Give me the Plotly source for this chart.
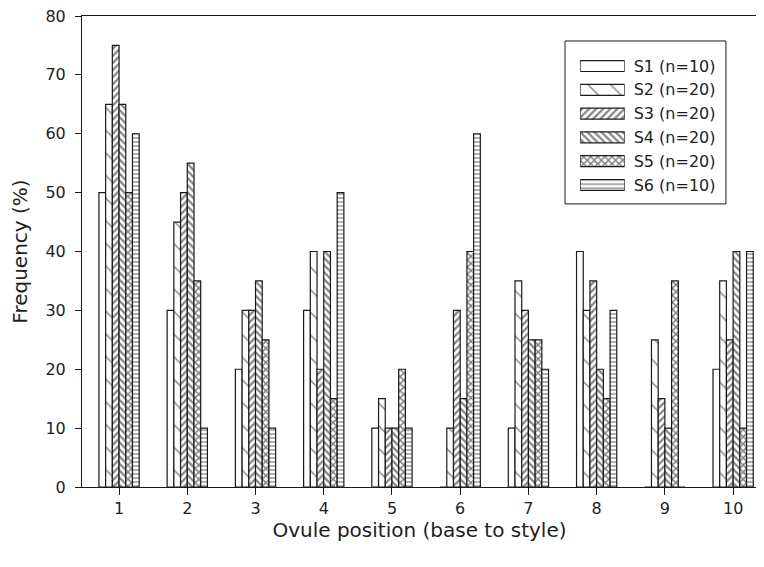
import plotly.graph_objects as go

positions = [1, 2, 3, 4, 5, 6, 7, 8, 9, 10]
series_names = ["S1 (n=10)", "S2 (n=20)", "S3 (n=20)", "S4 (n=20)", "S5 (n=20)", "S6 (n=10)"]
s1 = [50, 30, 20, 30, 10, 0, 10, 40, 0, 20]
s2 = [65, 45, 30, 40, 15, 10, 35, 30, 25, 35]
s3 = [75, 50, 30, 20, 10, 30, 30, 35, 15, 25]
s4 = [65, 55, 35, 40, 10, 15, 25, 20, 10, 40]
s5 = [50, 35, 25, 15, 20, 40, 25, 15, 35, 10]
s6 = [60, 10, 10, 50, 10, 60, 20, 30, 0, 40]
series_values = [s1, s2, s3, s4, s5, s6]
y_ticks = [0, 10, 20, 30, 40, 50, 60, 70, 80]

# pattern styles per series
shapes = ["", "\\", "/", "\\", "x", "-"]
psizes = [8, 16, 5, 5, 5, 4]
psolid = [0.3, 0.09, 0.45, 0.45, 0.5, 0.32]

FONT = "DejaVu Sans"
TXT = "#1e1e1e"
LINE = "#1a1a1a"
PAT = "#0a0a0a"

fig = go.Figure()
for name, vals, sh, sz, so in zip(series_names, series_values, shapes, psizes, psolid):
    fig.add_trace(go.Bar(
        x=positions, y=vals, name=name, showlegend=False,
        marker=dict(color="white", line=dict(color=LINE, width=1.2),
                    pattern=dict(shape=sh, size=sz, solidity=so,
                                 fgcolor=PAT, bgcolor="white", fillmode="overlay")),
    ))

# legend swatches drawn as bars on an auxiliary axis
fig.add_trace(go.Bar(
    x=[1] * len(series_names), y=series_names, orientation="h",
    xaxis="x2", yaxis="y2", width=0.46, showlegend=False,
    marker=dict(color="white", line=dict(color=LINE, width=1.2),
                pattern=dict(shape=shapes, size=psizes, solidity=psolid,
                             fgcolor=PAT, bgcolor="white", fillmode="overlay")),
    hoverinfo="skip",
))

fig.update_layout(
    width=764, height=567,
    margin=dict(l=74, r=15, t=8, b=88),
    paper_bgcolor="white", plot_bgcolor="white",
    barmode="group", bargap=0.41, bargroupgap=0,
    font=dict(family=FONT, size=16, color=TXT),
    xaxis=dict(
        range=[0.457, 10.35], tickvals=positions, ticktext=[str(p) for p in positions],
        ticks="outside", ticklen=7, tickcolor=LINE, showline=True, linecolor=LINE,
        linewidth=1, mirror=True, showgrid=False, zeroline=False,
        tickfont=dict(size=16, color=TXT), ticklabeloverflow="allow",
        title=dict(text="Ovule position (base to style)", font=dict(size=20, color=TXT), standoff=4),
        automargin=False,
    ),
    yaxis=dict(
        range=[0, 80], tickvals=y_ticks, ticks="outside", ticklen=6, tickcolor=LINE,
        showline=True, linecolor=LINE, linewidth=1, mirror=True, showgrid=False,
        zeroline=False, tickfont=dict(size=16, color=TXT), ticklabelstandoff=6,
        ticklabeloverflow="allow",
        title=dict(text="Frequency (%)", font=dict(size=20, color=TXT), standoff=20),
        automargin=False,
    ),
    xaxis2=dict(domain=[0.738, 0.804], range=[0, 1], anchor="y2", visible=False, fixedrange=True),
    yaxis2=dict(domain=[0.616, 0.919], anchor="x2", type="category",
                categoryarray=series_names, range=[5.5, -0.5], side="right",
                showline=False, showgrid=False, zeroline=False, ticks="",
                ticklabelstandoff=8, tickfont=dict(size=16, color=TXT), automargin=False),
    shapes=[dict(type="rect", xref="paper", yref="paper",
                 x0=0.7156, x1=0.954, y0=0.601, y1=0.947,
                 line=dict(color=LINE, width=1), fillcolor="rgba(0,0,0,0)")],
)

fig.write_html("out.html")
